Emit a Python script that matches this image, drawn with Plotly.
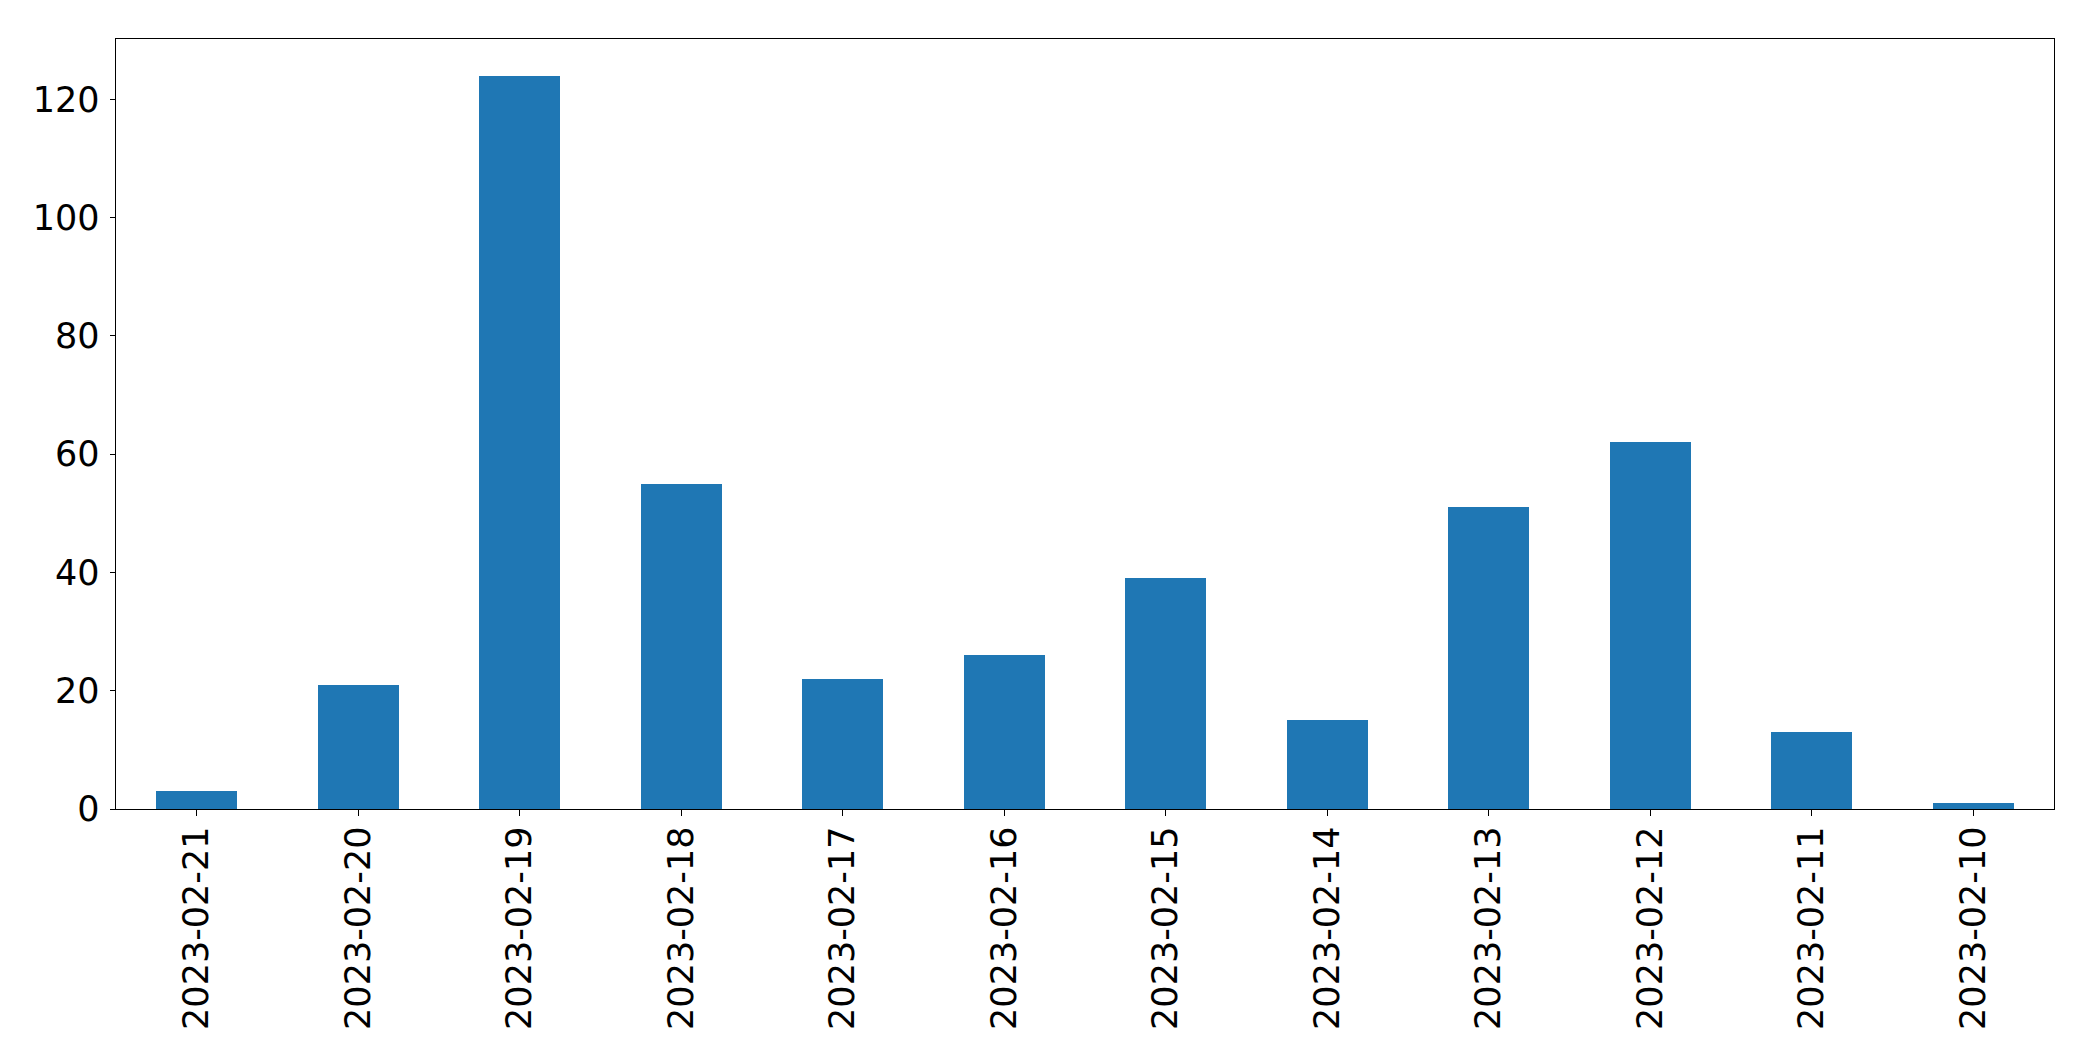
import plotly.graph_objects as go

dates = ["2023-02-21", "2023-02-20", "2023-02-19", "2023-02-18", "2023-02-17", "2023-02-16",
         "2023-02-15", "2023-02-14", "2023-02-13", "2023-02-12", "2023-02-11", "2023-02-10"]
counts = [3, 21, 124, 55, 22, 26, 39, 15, 51, 62, 13, 1]
y_ticks = [0, 20, 40, 60, 80, 100, 120]

fig = go.Figure(go.Bar(x=list(range(len(dates))), y=counts, width=0.5,
                       marker=dict(color="#1f77b4", line=dict(width=0))))

font = dict(family="DejaVu Sans", size=35, color="black")
fig.update_layout(
    width=2093, height=1061,
    margin=dict(l=116, r=39, t=39, b=252),
    plot_bgcolor="white", paper_bgcolor="white",
    showlegend=False, bargap=0,
    font=font,
)
fig.update_xaxes(
    range=[-0.5, len(dates) - 0.5],
    tickmode="array", tickvals=list(range(len(dates))), ticktext=dates,
    tickangle=-90, ticks="outside", ticklen=5.5, tickwidth=1, tickcolor="black",
    ticklabelstandoff=-3,
    showline=True, linecolor="black", linewidth=1, mirror=True,
    showgrid=False, zeroline=False, tickfont=font,
)
fig.update_yaxes(
    range=[0, max(counts) * 1.05],
    tickmode="array", tickvals=y_ticks,
    ticks="outside", ticklen=5.5, tickwidth=1, tickcolor="black",
    ticklabelstandoff=3,
    showline=True, linecolor="black", linewidth=1, mirror=True,
    showgrid=False, zeroline=False, tickfont=font,
)
fig.write_html("out.html")
